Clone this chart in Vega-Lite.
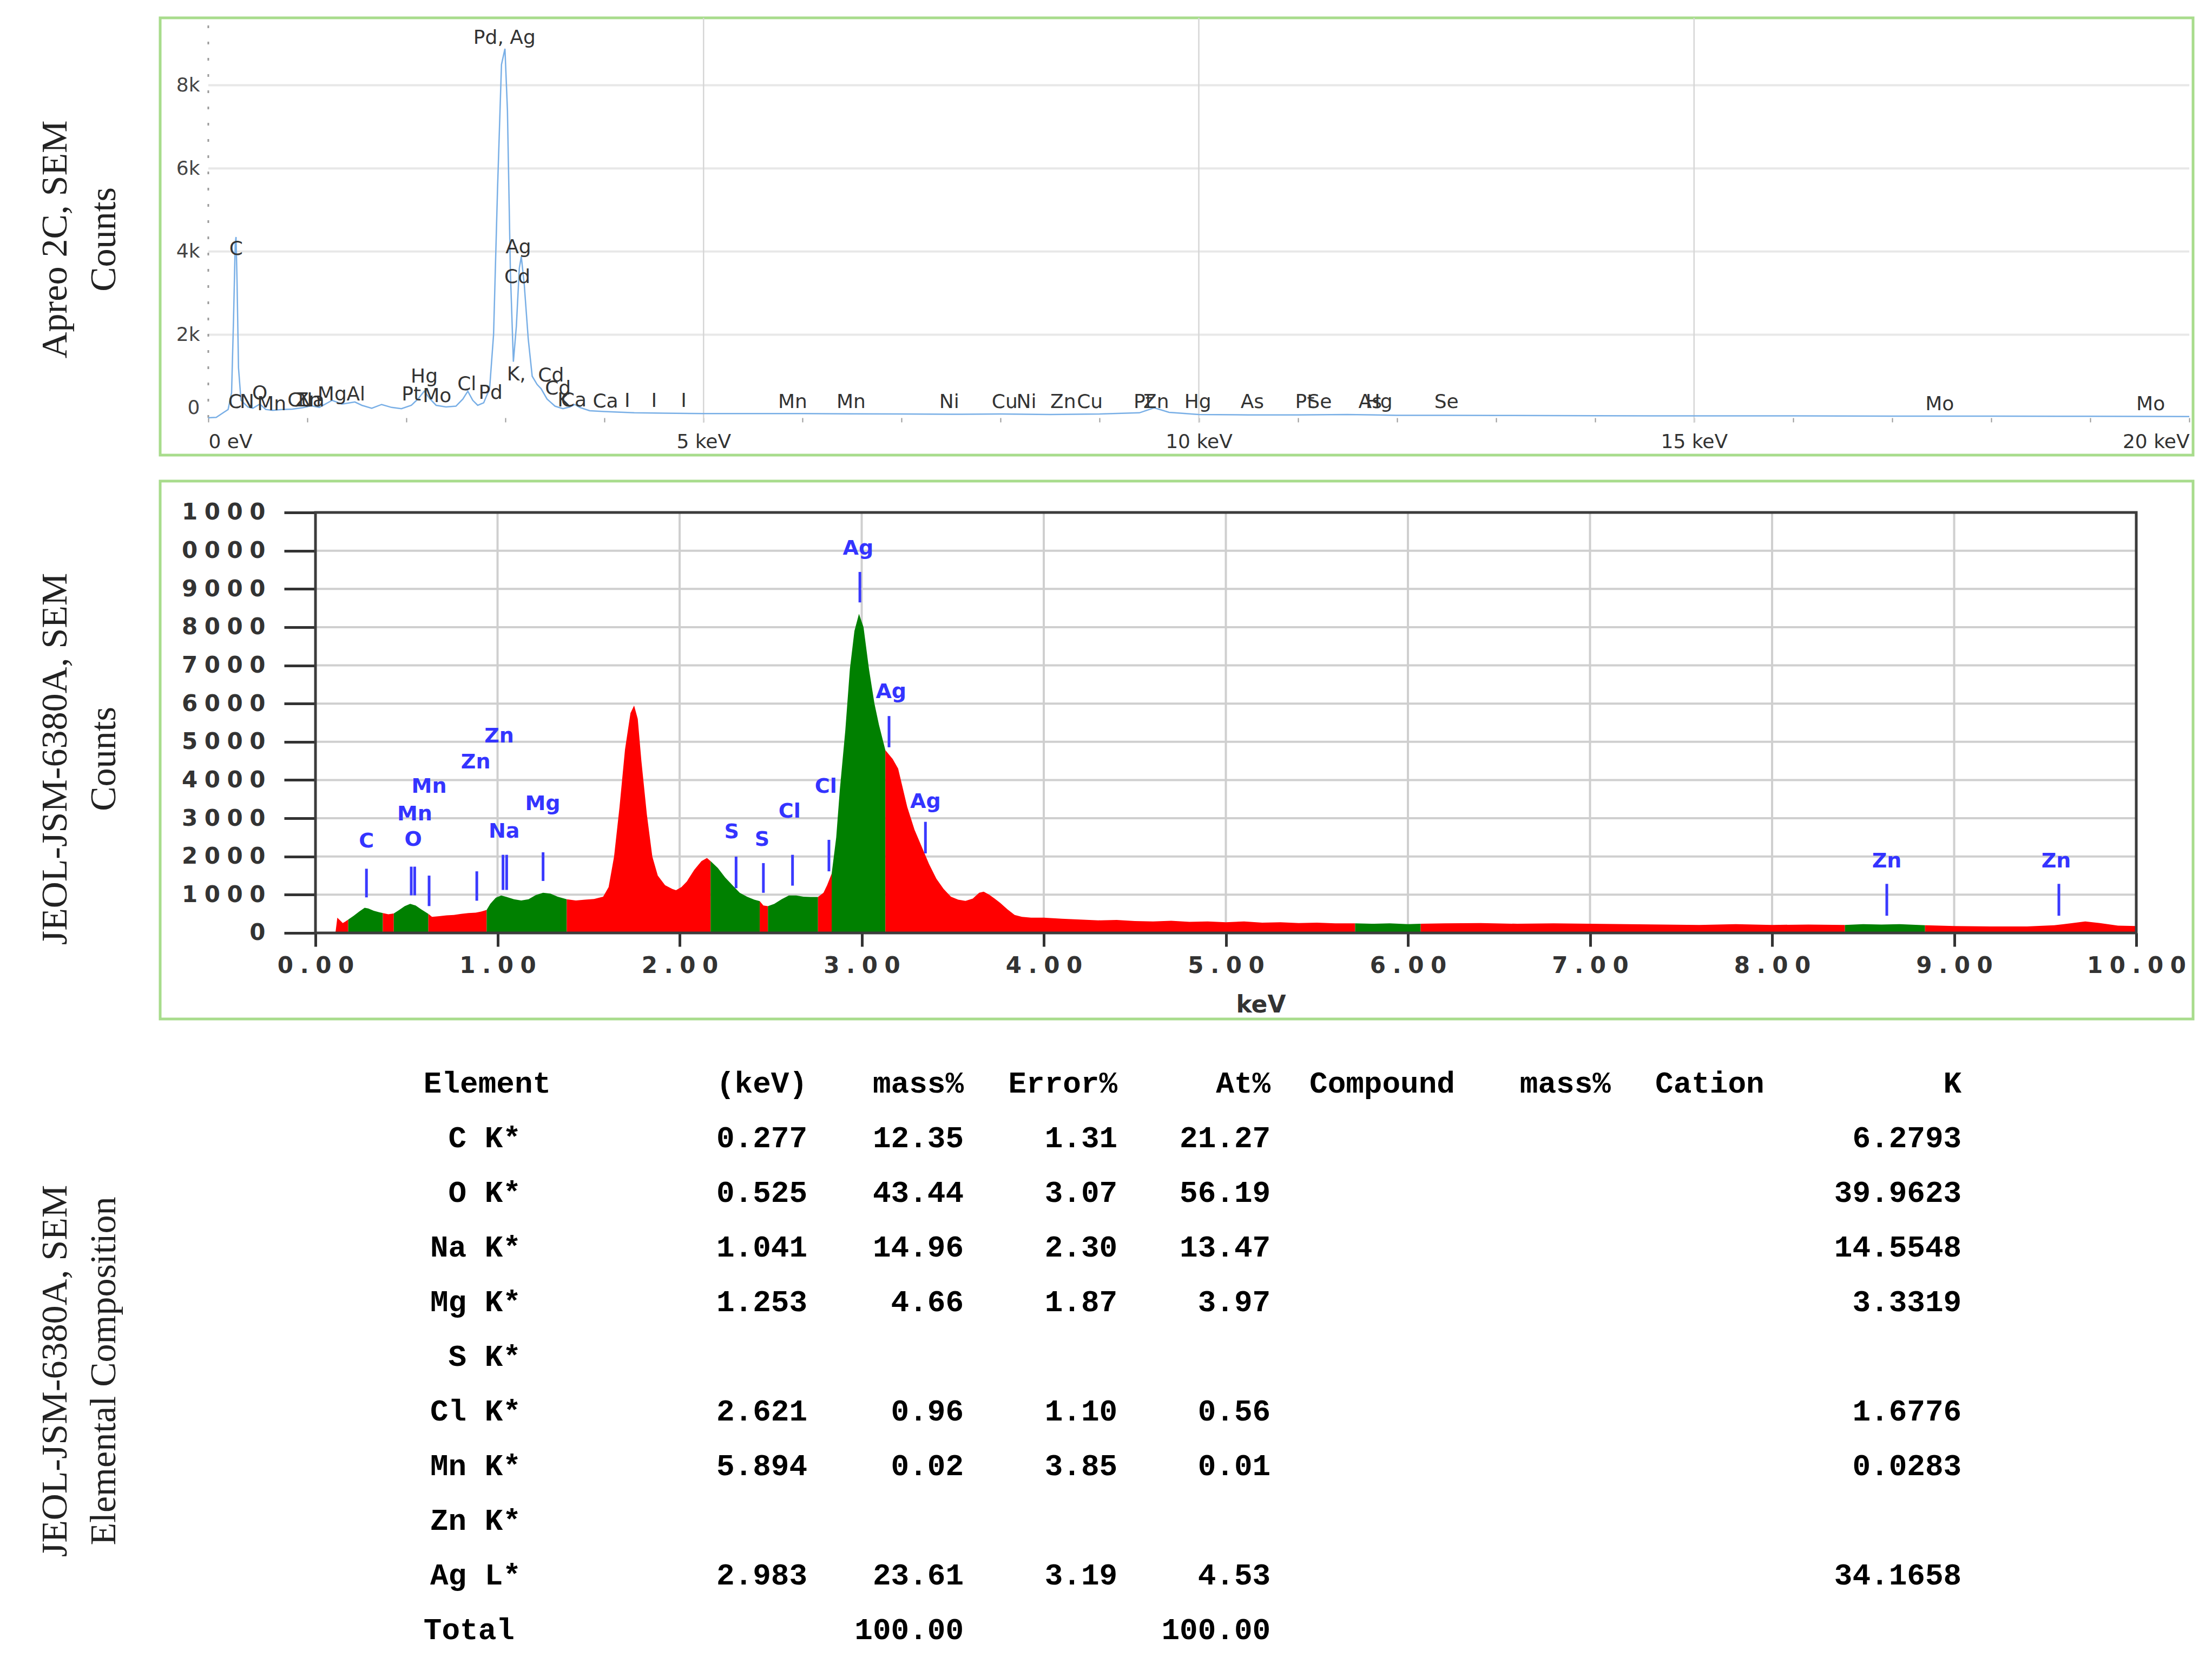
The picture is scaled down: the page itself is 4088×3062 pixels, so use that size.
{
  "$schema": "https://vega.github.io/schema/vega-lite/v6.json",
  "padding": {"left": 65, "top": 29, "right": 0, "bottom": 0},
  "autosize": {"type": "pad"},
  "background": "white",
  "bounds": "flush",
  "spacing": 48,
  "config": {"view": {"stroke": null}},
  "vconcat": [
    {
      "width": 3757,
      "height": 808,
      "view": {"stroke": "#a8dc8c", "strokeWidth": 5},
      "encoding": {
        "x": {"field": "e", "type": "quantitative", "scale": {"domain": [-0.486, 20.038], "nice": false, "zero": false},
          "axis": {"orient": "bottom", "offset": -69, "values": [0,1,2,3,4,5,6,7,8,9,10,11,12,13,14,15,16,17,18,19,20],
            "domain": false, "grid": false, "ticks": true, "tickSize": 8, "tickWidth": 2, "tickColor": "#999999",
            "labelExpr": "datum.value == 0 ? '0 eV' : (datum.value % 5 == 0 ? datum.value + ' keV' : '')",
            "labelFlush": 100, "labelOverlap": false, "labelLimit": 0, "labelFont": "DejaVu Sans", "labelFontSize": 36, "labelColor": "#333333",
            "labelPadding": 19, "title": null}},
        "y": {"field": "n", "type": "quantitative", "scale": {"domain": [-898, 9622], "nice": false, "zero": false},
          "axis": {"orient": "left", "offset": -89, "values": [0, 2000, 4000, 6000, 8000],
            "labelExpr": "datum.value == 0 ? '0' : (datum.value / 1000) + 'k'",
            "domain": false, "ticks": false, "tickSize": 0, "grid": false, "labelPadding": 16, "labelLimit": 0,
            "labelFont": "DejaVu Sans", "labelFontSize": 36, "labelColor": "#444444",
            "labelBaseline": {"condition": {"test": "datum.value === 0", "value": "bottom"}, "value": "middle"},
            "title": ["Apreo 2C, SEM", "Counts"], "titleFont": "Liberation Serif", "titleFontSize": 68, "titleFontWeight": "normal",
            "titleColor": "#222222", "titleAngle": 270, "titleBaseline": "top", "titleAlign": "center", "titleLineHeight": 90, "titleLimit": 0,
            "titleX": -317, "titleY": 409}}
      },
      "layer": [
        {
          "data": {"values": [{"n": 2000, "e": 0, "e2": 20}, {"n": 4000, "e": 0, "e2": 20}, {"n": 6000, "e": 0, "e2": 20}, {"n": 8000, "e": 0, "e2": 20}]},
          "mark": {"type": "rule", "color": "#e8e8e8", "strokeWidth": 4},
          "encoding": {"x2": {"field": "e2"}}
        },
        {
          "data": {"values": [{"e": 5, "n": -117, "n2": 9622}, {"e": 10, "n": -117, "n2": 9622}, {"e": 15, "n": -117, "n2": 9622}]},
          "mark": {"type": "rule", "color": "#d6d6d6", "strokeWidth": 2.5},
          "encoding": {"y2": {"field": "n2"}}
        },
        {
          "data": {"values": [{"e": 0, "n": 0, "n2": 9480}]},
          "mark": {"type": "rule", "color": "#999999", "strokeWidth": 3, "strokeDash": [5, 25]},
          "encoding": {"y2": {"field": "n2"}}
        },
        {
          "data": {"values": [
            {"e": 0.0, "n": 0}, {"e": 0.08, "n": 10}, {"e": 0.15, "n": 120}, {"e": 0.2, "n": 200}, {"e": 0.235, "n": 600},
            {"e": 0.255, "n": 2400}, {"e": 0.272, "n": 4200}, {"e": 0.28, "n": 4350}, {"e": 0.29, "n": 3300}, {"e": 0.305, "n": 1200},
            {"e": 0.33, "n": 420}, {"e": 0.4, "n": 260}, {"e": 0.45, "n": 230}, {"e": 0.52, "n": 330}, {"e": 0.58, "n": 200},
            {"e": 0.65, "n": 180}, {"e": 0.75, "n": 200}, {"e": 0.85, "n": 210}, {"e": 0.95, "n": 240}, {"e": 1.04, "n": 290},
            {"e": 1.12, "n": 250}, {"e": 1.25, "n": 420}, {"e": 1.35, "n": 330}, {"e": 1.48, "n": 380}, {"e": 1.55, "n": 300},
            {"e": 1.65, "n": 230}, {"e": 1.75, "n": 320}, {"e": 1.85, "n": 250}, {"e": 1.95, "n": 220}, {"e": 2.05, "n": 300},
            {"e": 2.12, "n": 460}, {"e": 2.18, "n": 640}, {"e": 2.24, "n": 450}, {"e": 2.3, "n": 300}, {"e": 2.4, "n": 260},
            {"e": 2.5, "n": 280}, {"e": 2.57, "n": 450}, {"e": 2.62, "n": 640}, {"e": 2.67, "n": 420}, {"e": 2.72, "n": 300},
            {"e": 2.78, "n": 360}, {"e": 2.84, "n": 700}, {"e": 2.88, "n": 2000}, {"e": 2.92, "n": 5500}, {"e": 2.96, "n": 8500},
            {"e": 2.995, "n": 8880}, {"e": 3.02, "n": 7400}, {"e": 3.05, "n": 3500}, {"e": 3.08, "n": 1350}, {"e": 3.11, "n": 2200},
            {"e": 3.14, "n": 3600}, {"e": 3.16, "n": 3880}, {"e": 3.19, "n": 3200}, {"e": 3.23, "n": 1900}, {"e": 3.27, "n": 1000},
            {"e": 3.32, "n": 800}, {"e": 3.36, "n": 700}, {"e": 3.42, "n": 450}, {"e": 3.5, "n": 280}, {"e": 3.58, "n": 220},
            {"e": 3.65, "n": 260}, {"e": 3.7, "n": 320}, {"e": 3.75, "n": 250}, {"e": 3.85, "n": 170}, {"e": 4.0, "n": 150},
            {"e": 4.3, "n": 120}, {"e": 4.6, "n": 110}, {"e": 5.0, "n": 100}, {"e": 5.5, "n": 100}, {"e": 6.0, "n": 100},
            {"e": 6.5, "n": 95}, {"e": 7.0, "n": 90}, {"e": 7.5, "n": 85}, {"e": 8.0, "n": 90}, {"e": 8.5, "n": 80},
            {"e": 9.0, "n": 90}, {"e": 9.4, "n": 120}, {"e": 9.55, "n": 240}, {"e": 9.7, "n": 130}, {"e": 10.0, "n": 80},
            {"e": 10.5, "n": 70}, {"e": 11.0, "n": 70}, {"e": 11.5, "n": 80}, {"e": 12.0, "n": 60}, {"e": 12.5, "n": 60},
            {"e": 13.0, "n": 55}, {"e": 14.0, "n": 50}, {"e": 15.0, "n": 45}, {"e": 16.0, "n": 45}, {"e": 17.0, "n": 40},
            {"e": 18.0, "n": 40}, {"e": 19.0, "n": 35}, {"e": 20.0, "n": 30}
          ]},
          "mark": {"type": "line", "color": "#79afe6", "strokeWidth": 2.5}
        },
        {
          "data": {"values": [
            {"t": "Pd, Ag", "e": 2.99, "n": 9135}, {"t": "C", "e": 0.28, "n": 4060}, {"t": "Ag", "e": 3.13, "n": 4100},
            {"t": "Cd", "e": 3.12, "n": 3385}, {"t": "Hg", "e": 2.18, "n": 990}, {"t": "Cl", "e": 2.61, "n": 810},
            {"t": "Pd", "e": 2.85, "n": 600}, {"t": "K,", "e": 3.11, "n": 1040}, {"t": "Cd", "e": 3.46, "n": 1010},
            {"t": "Cd", "e": 3.53, "n": 700}, {"t": "K", "e": 3.59, "n": 420}, {"t": "Ca", "e": 3.69, "n": 420},
            {"t": "Ca", "e": 4.01, "n": 390}, {"t": "I", "e": 4.23, "n": 400}, {"t": "I", "e": 4.5, "n": 400},
            {"t": "I", "e": 4.8, "n": 400}, {"t": "Pt", "e": 2.05, "n": 560}, {"t": "Mo", "e": 2.31, "n": 520},
            {"t": "C", "e": 0.27, "n": 380}, {"t": "N", "e": 0.39, "n": 380}, {"t": "O", "e": 0.52, "n": 580},
            {"t": "Mn", "e": 0.64, "n": 330}, {"t": "Cu", "e": 0.93, "n": 420}, {"t": "Zn", "e": 1.01, "n": 420},
            {"t": "Na", "e": 1.04, "n": 420}, {"t": "Mg", "e": 1.25, "n": 560}, {"t": "Al", "e": 1.49, "n": 560},
            {"t": "Mn", "e": 5.9, "n": 380}, {"t": "Mn", "e": 6.49, "n": 380}, {"t": "Ni", "e": 7.48, "n": 380},
            {"t": "Cu", "e": 8.04, "n": 380}, {"t": "Ni", "e": 8.26, "n": 380}, {"t": "Zn", "e": 8.63, "n": 380},
            {"t": "Cu", "e": 8.9, "n": 380}, {"t": "Pt", "e": 9.44, "n": 380}, {"t": "Zn", "e": 9.57, "n": 380},
            {"t": "Hg", "e": 9.99, "n": 380}, {"t": "As", "e": 10.54, "n": 380}, {"t": "Pt", "e": 11.07, "n": 380},
            {"t": "Se", "e": 11.22, "n": 380}, {"t": "As", "e": 11.73, "n": 380}, {"t": "Hg", "e": 11.82, "n": 380},
            {"t": "Se", "e": 12.5, "n": 380}, {"t": "Mo", "e": 17.48, "n": 330}, {"t": "Mo", "e": 19.61, "n": 330}
          ]},
          "mark": {"type": "text", "font": "DejaVu Sans", "fontSize": 36, "color": "#333333", "align": "center", "baseline": "middle"},
          "encoding": {"text": {"field": "t", "type": "nominal"}}
        }
      ]
    },
    {
      "width": 3757,
      "height": 994,
      "view": {"stroke": "#a8dc8c", "strokeWidth": 5},
      "encoding": {
        "x": {"field": "e", "type": "quantitative", "scale": {"domain": [-0.853, 10.312], "nice": false, "zero": false},
          "axis": {"orient": "bottom", "offset": -159, "values": [0,1,2,3,4,5,6,7,8,9,10], "domain": false, "grid": false,
            "tickSize": 25, "tickWidth": 5, "tickColor": "#333333",
            "labelExpr": "join(split(format(datum.value, '.2f'), ''), '\u2009\u200a')",
            "labelFont": "DejaVu Sans", "labelFontWeight": "bold", "labelFontSize": 42, "labelColor": "#333333",
            "labelPadding": 15, "labelOverlap": false, "labelFlush": false, "labelLimit": 0,
            "title": "keV", "titleFont": "DejaVu Sans", "titleFontWeight": "bold", "titleFontSize": 44, "titleColor": "#333333",
            "titleX": 2034, "titleY": 133, "titleBaseline": "middle", "titleAlign": "center"}},
        "y": {"field": "n", "type": "quantitative", "scale": {"domain": [-2251, 11821], "nice": false, "zero": false},
          "axis": {"orient": "left", "offset": -287, "values": [0,1000,2000,3000,4000,5000,6000,7000,8000,9000,10000,11000],
            "domain": false, "grid": false, "tickSize": 58, "tickWidth": 5, "tickColor": "#333333",
            "labelExpr": "join(split(datum.value >= 10000 ? substring(toString(datum.value), 1) : toString(datum.value), ''), '\u2009\u200a')",
            "labelFont": "DejaVu Sans", "labelFontWeight": "bold", "labelFontSize": 42, "labelColor": "#333333",
            "labelPadding": 35, "labelOverlap": false, "labelBaseline": "middle", "labelLimit": 0,
            "title": ["JEOL-JSM-6380A, SEM", "Counts"], "titleFont": "Liberation Serif", "titleFontSize": 68, "titleFontWeight": "normal",
            "titleColor": "#222222", "titleAngle": 270, "titleBaseline": "top", "titleAlign": "center", "titleLineHeight": 90, "titleLimit": 0,
            "titleX": -515, "titleY": 513}}
      },
      "layer": [
        {
          "data": {"values": [
            {"e": 1, "n": 0, "n2": 11000}, {"e": 2, "n": 0, "n2": 11000}, {"e": 3, "n": 0, "n2": 11000},
            {"e": 4, "n": 0, "n2": 11000}, {"e": 5, "n": 0, "n2": 11000}, {"e": 6, "n": 0, "n2": 11000},
            {"e": 7, "n": 0, "n2": 11000}, {"e": 8, "n": 0, "n2": 11000}, {"e": 9, "n": 0, "n2": 11000}
          ]},
          "mark": {"type": "rule", "color": "#cfcfcf", "strokeWidth": 4},
          "encoding": {"y2": {"field": "n2"}}
        },
        {
          "data": {"values": [
            {"n": 1000, "e": 0, "e2": 10}, {"n": 2000, "e": 0, "e2": 10}, {"n": 3000, "e": 0, "e2": 10}, {"n": 4000, "e": 0, "e2": 10},
            {"n": 5000, "e": 0, "e2": 10}, {"n": 6000, "e": 0, "e2": 10}, {"n": 7000, "e": 0, "e2": 10}, {"n": 8000, "e": 0, "e2": 10},
            {"n": 9000, "e": 0, "e2": 10}, {"n": 10000, "e": 0, "e2": 10}
          ]},
          "mark": {"type": "rule", "color": "#cfcfcf", "strokeWidth": 4},
          "encoding": {"x2": {"field": "e2"}}
        },
        {
          "data": {"values": [
            {"seg": 1, "c": "r", "e": 0.0, "n": 15}, {"seg": 1, "c": "r", "e": 0.11, "n": 15}, {"seg": 1, "c": "r", "e": 0.12, "n": 400},
            {"seg": 1, "c": "r", "e": 0.135, "n": 330}, {"seg": 1, "c": "r", "e": 0.15, "n": 260}, {"seg": 1, "c": "r", "e": 0.165, "n": 300},
            {"seg": 1, "c": "r", "e": 0.18, "n": 350},
            {"seg": 2, "c": "g", "e": 0.18, "n": 350}, {"seg": 2, "c": "g", "e": 0.21, "n": 450}, {"seg": 2, "c": "g", "e": 0.24, "n": 560},
            {"seg": 2, "c": "g", "e": 0.27, "n": 660}, {"seg": 2, "c": "g", "e": 0.29, "n": 640}, {"seg": 2, "c": "g", "e": 0.32, "n": 580},
            {"seg": 2, "c": "g", "e": 0.35, "n": 540}, {"seg": 2, "c": "g", "e": 0.37, "n": 520},
            {"seg": 3, "c": "r", "e": 0.37, "n": 520}, {"seg": 3, "c": "r", "e": 0.4, "n": 490}, {"seg": 3, "c": "r", "e": 0.43, "n": 510},
            {"seg": 4, "c": "g", "e": 0.43, "n": 510}, {"seg": 4, "c": "g", "e": 0.46, "n": 600}, {"seg": 4, "c": "g", "e": 0.49, "n": 700},
            {"seg": 4, "c": "g", "e": 0.52, "n": 760}, {"seg": 4, "c": "g", "e": 0.55, "n": 720}, {"seg": 4, "c": "g", "e": 0.58, "n": 620},
            {"seg": 4, "c": "g", "e": 0.62, "n": 500},
            {"seg": 5, "c": "r", "e": 0.62, "n": 500}, {"seg": 5, "c": "r", "e": 0.64, "n": 420}, {"seg": 5, "c": "r", "e": 0.68, "n": 440},
            {"seg": 5, "c": "r", "e": 0.72, "n": 460}, {"seg": 5, "c": "r", "e": 0.76, "n": 470}, {"seg": 5, "c": "r", "e": 0.8, "n": 500},
            {"seg": 5, "c": "r", "e": 0.84, "n": 520}, {"seg": 5, "c": "r", "e": 0.88, "n": 530}, {"seg": 5, "c": "r", "e": 0.91, "n": 560},
            {"seg": 5, "c": "r", "e": 0.94, "n": 600},
            {"seg": 6, "c": "g", "e": 0.94, "n": 600}, {"seg": 6, "c": "g", "e": 0.96, "n": 760}, {"seg": 6, "c": "g", "e": 0.99, "n": 920},
            {"seg": 6, "c": "g", "e": 1.02, "n": 980}, {"seg": 6, "c": "g", "e": 1.05, "n": 940}, {"seg": 6, "c": "g", "e": 1.09, "n": 880},
            {"seg": 6, "c": "g", "e": 1.13, "n": 850}, {"seg": 6, "c": "g", "e": 1.17, "n": 880}, {"seg": 6, "c": "g", "e": 1.21, "n": 990},
            {"seg": 6, "c": "g", "e": 1.25, "n": 1050}, {"seg": 6, "c": "g", "e": 1.29, "n": 1030}, {"seg": 6, "c": "g", "e": 1.33, "n": 950},
            {"seg": 6, "c": "g", "e": 1.38, "n": 880},
            {"seg": 7, "c": "r", "e": 1.38, "n": 880}, {"seg": 7, "c": "r", "e": 1.43, "n": 850}, {"seg": 7, "c": "r", "e": 1.48, "n": 870},
            {"seg": 7, "c": "r", "e": 1.53, "n": 890}, {"seg": 7, "c": "r", "e": 1.58, "n": 950}, {"seg": 7, "c": "r", "e": 1.61, "n": 1200},
            {"seg": 7, "c": "r", "e": 1.64, "n": 2000}, {"seg": 7, "c": "r", "e": 1.67, "n": 3300}, {"seg": 7, "c": "r", "e": 1.7, "n": 4800},
            {"seg": 7, "c": "r", "e": 1.73, "n": 5750}, {"seg": 7, "c": "r", "e": 1.75, "n": 5950}, {"seg": 7, "c": "r", "e": 1.77, "n": 5600},
            {"seg": 7, "c": "r", "e": 1.79, "n": 4500}, {"seg": 7, "c": "r", "e": 1.82, "n": 3100}, {"seg": 7, "c": "r", "e": 1.85, "n": 2000},
            {"seg": 7, "c": "r", "e": 1.88, "n": 1500}, {"seg": 7, "c": "r", "e": 1.92, "n": 1250}, {"seg": 7, "c": "r", "e": 1.96, "n": 1150},
            {"seg": 7, "c": "r", "e": 1.98, "n": 1120}, {"seg": 7, "c": "r", "e": 2.01, "n": 1200}, {"seg": 7, "c": "r", "e": 2.04, "n": 1350},
            {"seg": 7, "c": "r", "e": 2.08, "n": 1650}, {"seg": 7, "c": "r", "e": 2.12, "n": 1880}, {"seg": 7, "c": "r", "e": 2.15, "n": 1960},
            {"seg": 7, "c": "r", "e": 2.17, "n": 1880},
            {"seg": 8, "c": "g", "e": 2.17, "n": 1880}, {"seg": 8, "c": "g", "e": 2.21, "n": 1700}, {"seg": 8, "c": "g", "e": 2.25, "n": 1450},
            {"seg": 8, "c": "g", "e": 2.29, "n": 1250}, {"seg": 8, "c": "g", "e": 2.33, "n": 1050}, {"seg": 8, "c": "g", "e": 2.37, "n": 950},
            {"seg": 8, "c": "g", "e": 2.41, "n": 870}, {"seg": 8, "c": "g", "e": 2.44, "n": 830},
            {"seg": 9, "c": "r", "e": 2.44, "n": 830}, {"seg": 9, "c": "r", "e": 2.46, "n": 720}, {"seg": 9, "c": "r", "e": 2.485, "n": 700},
            {"seg": 10, "c": "g", "e": 2.485, "n": 700}, {"seg": 10, "c": "g", "e": 2.52, "n": 760}, {"seg": 10, "c": "g", "e": 2.56, "n": 880},
            {"seg": 10, "c": "g", "e": 2.6, "n": 980}, {"seg": 10, "c": "g", "e": 2.64, "n": 980}, {"seg": 10, "c": "g", "e": 2.68, "n": 950},
            {"seg": 10, "c": "g", "e": 2.72, "n": 940}, {"seg": 10, "c": "g", "e": 2.76, "n": 940},
            {"seg": 11, "c": "r", "e": 2.76, "n": 940}, {"seg": 11, "c": "r", "e": 2.79, "n": 1050}, {"seg": 11, "c": "r", "e": 2.81, "n": 1250},
            {"seg": 11, "c": "r", "e": 2.835, "n": 1550},
            {"seg": 12, "c": "g", "e": 2.835, "n": 1550}, {"seg": 12, "c": "g", "e": 2.86, "n": 2500}, {"seg": 12, "c": "g", "e": 2.88, "n": 3750},
            {"seg": 12, "c": "g", "e": 2.91, "n": 5300}, {"seg": 12, "c": "g", "e": 2.935, "n": 6900}, {"seg": 12, "c": "g", "e": 2.96, "n": 7900},
            {"seg": 12, "c": "g", "e": 2.985, "n": 8350}, {"seg": 12, "c": "g", "e": 3.01, "n": 8000}, {"seg": 12, "c": "g", "e": 3.04, "n": 6900},
            {"seg": 12, "c": "g", "e": 3.07, "n": 6000}, {"seg": 12, "c": "g", "e": 3.095, "n": 5440}, {"seg": 12, "c": "g", "e": 3.13, "n": 4780},
            {"seg": 13, "c": "r", "e": 3.13, "n": 4780}, {"seg": 13, "c": "r", "e": 3.17, "n": 4550}, {"seg": 13, "c": "r", "e": 3.2, "n": 4300},
            {"seg": 13, "c": "r", "e": 3.25, "n": 3300}, {"seg": 13, "c": "r", "e": 3.29, "n": 2700}, {"seg": 13, "c": "r", "e": 3.33, "n": 2250},
            {"seg": 13, "c": "r", "e": 3.37, "n": 1800}, {"seg": 13, "c": "r", "e": 3.41, "n": 1420}, {"seg": 13, "c": "r", "e": 3.45, "n": 1150},
            {"seg": 13, "c": "r", "e": 3.49, "n": 950}, {"seg": 13, "c": "r", "e": 3.53, "n": 870}, {"seg": 13, "c": "r", "e": 3.57, "n": 840},
            {"seg": 13, "c": "r", "e": 3.61, "n": 900}, {"seg": 13, "c": "r", "e": 3.645, "n": 1050}, {"seg": 13, "c": "r", "e": 3.67, "n": 1080},
            {"seg": 13, "c": "r", "e": 3.7, "n": 1000}, {"seg": 13, "c": "r", "e": 3.73, "n": 900}, {"seg": 13, "c": "r", "e": 3.76, "n": 790},
            {"seg": 13, "c": "r", "e": 3.8, "n": 620}, {"seg": 13, "c": "r", "e": 3.84, "n": 470}, {"seg": 13, "c": "r", "e": 3.88, "n": 420},
            {"seg": 13, "c": "r", "e": 3.93, "n": 400}, {"seg": 13, "c": "r", "e": 4.0, "n": 400}, {"seg": 13, "c": "r", "e": 4.1, "n": 370},
            {"seg": 13, "c": "r", "e": 4.2, "n": 350}, {"seg": 13, "c": "r", "e": 4.3, "n": 330}, {"seg": 13, "c": "r", "e": 4.4, "n": 340},
            {"seg": 13, "c": "r", "e": 4.5, "n": 310}, {"seg": 13, "c": "r", "e": 4.6, "n": 300}, {"seg": 13, "c": "r", "e": 4.7, "n": 320},
            {"seg": 13, "c": "r", "e": 4.8, "n": 290}, {"seg": 13, "c": "r", "e": 4.9, "n": 300}, {"seg": 13, "c": "r", "e": 5.0, "n": 280},
            {"seg": 13, "c": "r", "e": 5.1, "n": 300}, {"seg": 13, "c": "r", "e": 5.2, "n": 270}, {"seg": 13, "c": "r", "e": 5.3, "n": 280},
            {"seg": 13, "c": "r", "e": 5.4, "n": 260}, {"seg": 13, "c": "r", "e": 5.5, "n": 270}, {"seg": 13, "c": "r", "e": 5.6, "n": 250},
            {"seg": 13, "c": "r", "e": 5.71, "n": 250},
            {"seg": 14, "c": "g", "e": 5.71, "n": 250}, {"seg": 14, "c": "g", "e": 5.8, "n": 240}, {"seg": 14, "c": "g", "e": 5.9, "n": 250},
            {"seg": 14, "c": "g", "e": 6.0, "n": 230}, {"seg": 14, "c": "g", "e": 6.07, "n": 240},
            {"seg": 15, "c": "r", "e": 6.07, "n": 240}, {"seg": 15, "c": "r", "e": 6.2, "n": 250}, {"seg": 15, "c": "r", "e": 6.4, "n": 260},
            {"seg": 15, "c": "r", "e": 6.6, "n": 240}, {"seg": 15, "c": "r", "e": 6.8, "n": 250}, {"seg": 15, "c": "r", "e": 7.0, "n": 240},
            {"seg": 15, "c": "r", "e": 7.2, "n": 230}, {"seg": 15, "c": "r", "e": 7.4, "n": 220}, {"seg": 15, "c": "r", "e": 7.6, "n": 210},
            {"seg": 15, "c": "r", "e": 7.8, "n": 230}, {"seg": 15, "c": "r", "e": 8.0, "n": 210}, {"seg": 15, "c": "r", "e": 8.2, "n": 220},
            {"seg": 15, "c": "r", "e": 8.4, "n": 210},
            {"seg": 16, "c": "g", "e": 8.4, "n": 210}, {"seg": 16, "c": "g", "e": 8.5, "n": 230}, {"seg": 16, "c": "g", "e": 8.6, "n": 220},
            {"seg": 16, "c": "g", "e": 8.7, "n": 230}, {"seg": 16, "c": "g", "e": 8.84, "n": 200},
            {"seg": 17, "c": "r", "e": 8.84, "n": 200}, {"seg": 17, "c": "r", "e": 9.0, "n": 180}, {"seg": 17, "c": "r", "e": 9.2, "n": 170},
            {"seg": 17, "c": "r", "e": 9.4, "n": 170}, {"seg": 17, "c": "r", "e": 9.55, "n": 200}, {"seg": 17, "c": "r", "e": 9.65, "n": 260},
            {"seg": 17, "c": "r", "e": 9.72, "n": 300}, {"seg": 17, "c": "r", "e": 9.8, "n": 260}, {"seg": 17, "c": "r", "e": 9.9, "n": 190},
            {"seg": 17, "c": "r", "e": 10.0, "n": 180}
          ]},
          "mark": {"type": "area", "interpolate": "linear"},
          "encoding": {
            "y2": {"datum": 0},
            "color": {"field": "c", "type": "nominal", "scale": {"domain": ["r", "g"], "range": ["#ff0000", "#008000"]}, "legend": null},
            "detail": {"field": "seg", "type": "nominal"}
          }
        },
        {
          "data": {"values": [{"e": 0, "e2": 10, "n": 0, "n2": 11000}]},
          "mark": {"type": "rect", "fillOpacity": 0, "stroke": "#3c3c3c", "strokeWidth": 5},
          "encoding": {"x2": {"field": "e2"}, "y2": {"field": "n2"}}
        },
        {
          "data": {"values": [
            {"e": 0.28, "n": 930, "n2": 1680}, {"e": 0.526, "n": 984, "n2": 1734}, {"e": 0.545, "n": 984, "n2": 1734},
            {"e": 0.624, "n": 703, "n2": 1500}, {"e": 0.886, "n": 843, "n2": 1612}, {"e": 1.03, "n": 1125, "n2": 2044},
            {"e": 1.05, "n": 1125, "n2": 2044}, {"e": 1.25, "n": 1360, "n2": 2110}, {"e": 2.31, "n": 1171, "n2": 1997},
            {"e": 2.46, "n": 1050, "n2": 1827}, {"e": 2.62, "n": 1237, "n2": 2044}, {"e": 2.82, "n": 1612, "n2": 2436},
            {"e": 2.99, "n": 8647, "n2": 9444}, {"e": 3.15, "n": 4857, "n2": 5674}, {"e": 3.35, "n": 2081, "n2": 2907},
            {"e": 8.63, "n": 450, "n2": 1284}, {"e": 9.575, "n": 450, "n2": 1284}
          ]},
          "mark": {"type": "rule", "color": "#3a3aff", "strokeWidth": 5},
          "encoding": {"y2": {"field": "n2"}}
        },
        {
          "data": {"values": [
            {"t": "C", "e": 0.28, "n": 2390}, {"t": "O", "e": 0.537, "n": 2437}, {"t": "Mn", "e": 0.545, "n": 3095},
            {"t": "Mn", "e": 0.624, "n": 3816}, {"t": "Zn", "e": 0.88, "n": 4455}, {"t": "Zn", "e": 1.009, "n": 5139},
            {"t": "Na", "e": 1.036, "n": 2653}, {"t": "Mg", "e": 1.248, "n": 3376}, {"t": "S", "e": 2.286, "n": 2630},
            {"t": "S", "e": 2.453, "n": 2437}, {"t": "Cl", "e": 2.604, "n": 3168}, {"t": "Cl", "e": 2.803, "n": 3816},
            {"t": "Ag", "e": 2.98, "n": 10054}, {"t": "Ag", "e": 3.161, "n": 6302}, {"t": "Ag", "e": 3.35, "n": 3423},
            {"t": "Zn", "e": 8.63, "n": 1875}, {"t": "Zn", "e": 9.56, "n": 1875}
          ]},
          "mark": {"type": "text", "font": "DejaVu Sans", "fontWeight": "bold", "fontSize": 38, "color": "#3434ff", "align": "center", "baseline": "middle"},
          "encoding": {"text": {"field": "t", "type": "nominal"}}
        }
      ]
    },
    {
      "width": 3757,
      "height": 1125,
      "view": {"stroke": null},
      "data": {"values": [
        {"row": "h", "lab": "Element", "el": "", "kev": "(keV)", "mass": "mass%", "err": "Error%", "at": "At%", "comp": "Compound", "mass2": "mass%", "cat": "Cation", "k": "K"},
        {"row": "C", "lab": "", "el": "C K*", "kev": "0.277", "mass": "12.35", "err": "1.31", "at": "21.27", "comp": "", "mass2": "", "cat": "", "k": "6.2793"},
        {"row": "O", "lab": "", "el": "O K*", "kev": "0.525", "mass": "43.44", "err": "3.07", "at": "56.19", "comp": "", "mass2": "", "cat": "", "k": "39.9623"},
        {"row": "Na", "lab": "", "el": "Na K*", "kev": "1.041", "mass": "14.96", "err": "2.30", "at": "13.47", "comp": "", "mass2": "", "cat": "", "k": "14.5548"},
        {"row": "Mg", "lab": "", "el": "Mg K*", "kev": "1.253", "mass": "4.66", "err": "1.87", "at": "3.97", "comp": "", "mass2": "", "cat": "", "k": "3.3319"},
        {"row": "S", "lab": "", "el": "S K*", "kev": "", "mass": "", "err": "", "at": "", "comp": "", "mass2": "", "cat": "", "k": ""},
        {"row": "Cl", "lab": "", "el": "Cl K*", "kev": "2.621", "mass": "0.96", "err": "1.10", "at": "0.56", "comp": "", "mass2": "", "cat": "", "k": "1.6776"},
        {"row": "Mn", "lab": "", "el": "Mn K*", "kev": "5.894", "mass": "0.02", "err": "3.85", "at": "0.01", "comp": "", "mass2": "", "cat": "", "k": "0.0283"},
        {"row": "Zn", "lab": "", "el": "Zn K*", "kev": "", "mass": "", "err": "", "at": "", "comp": "", "mass2": "", "cat": "", "k": ""},
        {"row": "Ag", "lab": "", "el": "Ag L*", "kev": "2.983", "mass": "23.61", "err": "3.19", "at": "4.53", "comp": "", "mass2": "", "cat": "", "k": "34.1658"},
        {"row": "Total", "lab": "Total", "el": "", "kev": "", "mass": "100.00", "err": "", "at": "100.00", "comp": "", "mass2": "", "cat": "", "k": ""}
      ]},
      "encoding": {
        "y": {"field": "row", "type": "nominal", "sort": null, "scale": {"type": "point", "range": [71, 1081], "padding": 0},
          "axis": {"labels": false, "ticks": false, "domain": false, "grid": false,
            "title": ["JEOL-JSM-6380A, SEM", "Elemental Composition"], "titleFont": "Liberation Serif", "titleFontSize": 68, "titleFontWeight": "normal",
            "titleColor": "#222222", "titleAngle": 270, "titleBaseline": "top", "titleAlign": "center", "titleLineHeight": 90, "titleLimit": 0,
            "titleX": -228, "titleY": 602}}
      },
      "layer": [
        {"mark": {"type": "text", "font": "Liberation Mono", "fontWeight": "bold", "fontSize": 56, "color": "#000000", "align": "left", "baseline": "middle"},
         "encoding": {"x": {"datum": 13.95, "type": "quantitative", "scale": {"domain": [0, 107.65], "nice": false, "zero": false}, "axis": null}, "text": {"field": "lab", "type": "nominal"}}},
        {"mark": {"type": "text", "font": "Liberation Mono", "fontWeight": "bold", "fontSize": 56, "color": "#000000", "align": "right", "baseline": "middle"},
         "encoding": {"x": {"datum": 19.11, "type": "quantitative", "scale": {"domain": [0, 107.65], "nice": false, "zero": false}, "axis": null}, "text": {"field": "el", "type": "nominal"}}},
        {"mark": {"type": "text", "font": "Liberation Mono", "fontWeight": "bold", "fontSize": 56, "color": "#000000", "align": "right", "baseline": "middle"},
         "encoding": {"x": {"datum": 34.27, "type": "quantitative", "scale": {"domain": [0, 107.65], "nice": false, "zero": false}, "axis": null}, "text": {"field": "kev", "type": "nominal"}}},
        {"mark": {"type": "text", "font": "Liberation Mono", "fontWeight": "bold", "fontSize": 56, "color": "#000000", "align": "right", "baseline": "middle"},
         "encoding": {"x": {"datum": 42.55, "type": "quantitative", "scale": {"domain": [0, 107.65], "nice": false, "zero": false}, "axis": null}, "text": {"field": "mass", "type": "nominal"}}},
        {"mark": {"type": "text", "font": "Liberation Mono", "fontWeight": "bold", "fontSize": 56, "color": "#000000", "align": "right", "baseline": "middle"},
         "encoding": {"x": {"datum": 50.69, "type": "quantitative", "scale": {"domain": [0, 107.65], "nice": false, "zero": false}, "axis": null}, "text": {"field": "err", "type": "nominal"}}},
        {"mark": {"type": "text", "font": "Liberation Mono", "fontWeight": "bold", "fontSize": 56, "color": "#000000", "align": "right", "baseline": "middle"},
         "encoding": {"x": {"datum": 58.8, "type": "quantitative", "scale": {"domain": [0, 107.65], "nice": false, "zero": false}, "axis": null}, "text": {"field": "at", "type": "nominal"}}},
        {"mark": {"type": "text", "font": "Liberation Mono", "fontWeight": "bold", "fontSize": 56, "color": "#000000", "align": "left", "baseline": "middle"},
         "encoding": {"x": {"datum": 60.86, "type": "quantitative", "scale": {"domain": [0, 107.65], "nice": false, "zero": false}, "axis": null}, "text": {"field": "comp", "type": "nominal"}}},
        {"mark": {"type": "text", "font": "Liberation Mono", "fontWeight": "bold", "fontSize": 56, "color": "#000000", "align": "left", "baseline": "middle"},
         "encoding": {"x": {"datum": 72.0, "type": "quantitative", "scale": {"domain": [0, 107.65], "nice": false, "zero": false}, "axis": null}, "text": {"field": "mass2", "type": "nominal"}}},
        {"mark": {"type": "text", "font": "Liberation Mono", "fontWeight": "bold", "fontSize": 56, "color": "#000000", "align": "left", "baseline": "middle"},
         "encoding": {"x": {"datum": 79.17, "type": "quantitative", "scale": {"domain": [0, 107.65], "nice": false, "zero": false}, "axis": null}, "text": {"field": "cat", "type": "nominal"}}},
        {"mark": {"type": "text", "font": "Liberation Mono", "fontWeight": "bold", "fontSize": 56, "color": "#000000", "align": "right", "baseline": "middle"},
         "encoding": {"x": {"datum": 95.39, "type": "quantitative", "scale": {"domain": [0, 107.65], "nice": false, "zero": false}, "axis": null}, "text": {"field": "k", "type": "nominal"}}}
      ]
    }
  ]
}
